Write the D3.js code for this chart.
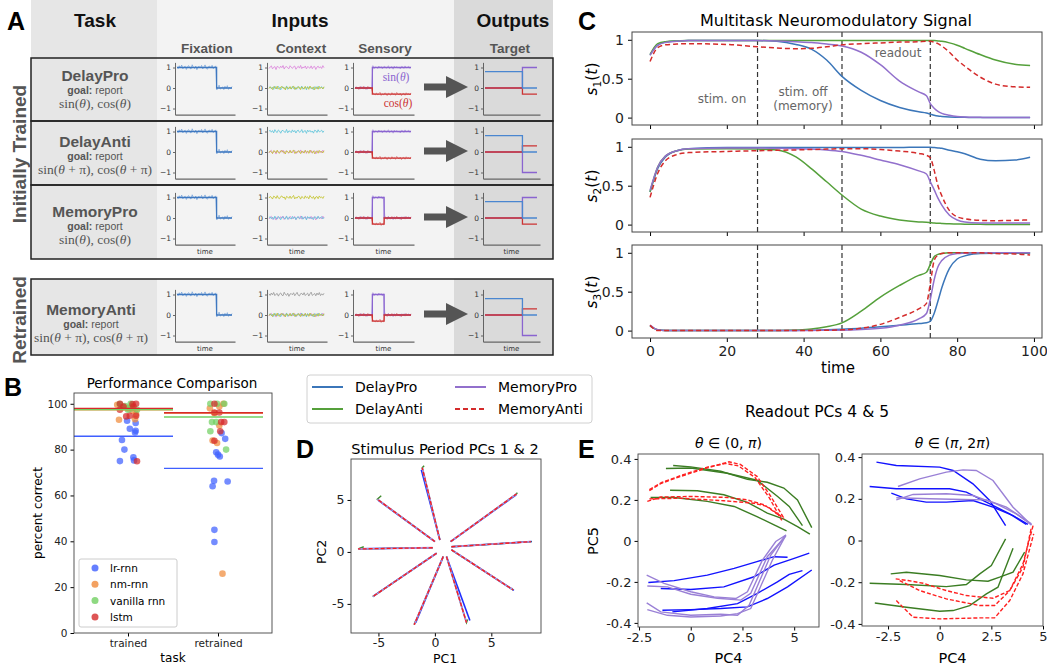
<!DOCTYPE html>
<html lang="en">
<head>
<meta charset="utf-8">
<title>Multitask figure</title>
<script src="https://d3js.org/d3.v7.min.js"></script>
<style>
body{margin:0;background:#fff;}
svg text{font-family:"DejaVu Sans",sans-serif;}
</style>
</head>
<body>
<script>
// ---------- data ----------
// panel A: task rows
var taskNames = ["DelayPro", "DelayAnti", "MemoryPro", "MemoryAnti"];
var taskAnti = [false, true, false, true];
var taskMemory = [false, false, true, true];
var ctxHigh = ["pink", "cyan", "yellow", "gray"];
// trial structure (fraction of trial)
var stimOn = 0.31, stimOff = 0.52, respOn = 0.72;
// hand read noise of the input traces
var nz1 = [0.06,-0.09,0.14,-0.04,0.2,-0.11,0.03,0.1,-0.16,0.07,0.15,-0.06,-0.12,0.22,0.01,-0.08,0.12,-0.18,0.05,0.09,-0.03,0.17,-0.12,0.04,0.21,-0.07,-0.14,0.08,0.11,-0.05,0.18,-0.1,0.03,0.13,-0.15,0.06,0.23,-0.09,0.0,0.1,-0.13,0.14,-0.04,0.19,-0.11,0.07,-0.06,0.12];
var nz2 = [-0.1,0.05,0.16,-0.13,0.02,0.09,-0.2,0.11,0.04,-0.07,0.13,-0.02,0.19,-0.15,0.06,0.1,-0.05,-0.12,0.17,0.03,-0.09,0.08,0.14,-0.17,0.01,0.12,-0.06,0.2,-0.11,0.05,-0.03,0.15,-0.14,0.09,0.02,-0.08,0.16,-0.12,0.07,0.11,-0.19,0.04,0.13,-0.06,0.08,-0.1,0.18,-0.02];
var nz3 = [0.03,0.12,-0.07,0.09,-0.14,0.18,-0.02,-0.1,0.15,0.05,-0.17,0.08,0.11,-0.04,-0.09,0.2,-0.13,0.06,0.02,-0.11,0.16,-0.05,0.1,-0.15,0.07,0.13,-0.08,-0.02,0.19,-0.12,0.04,0.09,-0.18,0.14,-0.03,0.11,-0.07,0.05,-0.16,0.12,0.08,-0.1,0.17,-0.04,0.02,0.13,-0.09,0.06];
var nz4 = [-0.05,0.1,0.02,-0.15,0.13,0.07,-0.09,0.18,-0.06,-0.12,0.09,0.15,-0.03,0.05,-0.19,0.11,0.04,-0.08,0.14,-0.1,0.06,0.2,-0.14,0.03,-0.07,0.12,0.08,-0.16,0.1,0.01,-0.11,0.16,-0.04,0.07,-0.13,0.19,0.02,-0.08,0.11,-0.17,0.05,0.09,-0.12,0.15,-0.02,0.06,-0.09,0.13];

// panel B: percent correct per model
var modelNames = ["lr-rnn", "nm-rnn", "vanilla rnn", "lstm"];
var lrTrained = [92.6,89.1,91.6,88.2,87.5,84.2,80,75,76.6,75.3];
var lrTrainedJit = [-0.01,0.02,0.085,0.085,0.078,-0.067,-0.04,-0.09,0.06,0.067];
var nmTrained = [93,93.3,98,99.6,97,95.5,98.5,99];
var nmTrainedJit = [-0.1,0.078,0,-0.12,0.05,0.09,-0.05,0.04];
var vanTrained = [99.9,99,98,97.4,97.4,100,98.5];
var vanTrainedJit = [-0.09,-0.033,0.04,0.1,0,0.03,-0.07];
var lstmTrained = [100,98.8,97.4,99.9,100,98.8,94.5,94.8,94.8,74.9];
var lstmTrainedJit = [-0.09,-0.05,-0.09,0.05,0.09,0.06,-0.02,0.02,0.09,0.1];
var lrRetrained = [66.4,64,66.1,45,39.7,78.8,77.8,77,84.7,87.2];
var lrRetrainedJit = [-0.044,-0.06,0.107,-0.04,-0.04,-0.02,0,0.02,0.08,0.04];
var nmRetrained = [98,95.9,90.5,82.9,84,25.9,98.8,100];
var nmRetrainedJit = [-0.09,-0.04,0.015,-0.01,-0.06,0.05,0.015,0.06];
var vanRetrained = [100,100,100,92,92,88,80];
var vanRetrainedJit = [-0.085,-0.01,0.07,-0.067,-0.02,-0.085,0.09];
var lstmRetrained = [100,96.2,96.2,92,92,88,83.9];
var lstmRetrainedJit = [-0.04,-0.04,0.015,0.07,0.035,0.025,-0.04];
var meanTrained = [85.8, 97.4, 97.5, 98];
var meanRetrained = [71.8, 96, 94.2, 96.1];

// panel C: neuromodulatory signals
var tGrid = [0,2,4,7,10,20,28,33,38,42,46,50,55,60,65,70,72,73,74,75,76,78,80,82,86,90,95,99];
var s1Blue = [.81,.93,.97,.985,.99,.99,.99,.98,.94,.88,.74,.53,.35,.22,.13,.075,.06,.045,.03,.02,.015,.008,.005,.003,0,0,0,0];
var s1Green = [.81,.95,.975,.985,.99,.99,.99,.99,.99,.99,.99,.99,.99,.99,.99,.99,.99,.99,.99,.985,.98,.96,.93,.89,.81,.74,.685,.67];
var s1Purple = [.80,.93,.965,.98,.99,.99,.99,.985,.975,.965,.945,.92,.84,.68,.47,.33,.28,.18,.12,.08,.055,.03,.015,.008,.003,0,0,0];
var s1Red = [.72,.9,.935,.945,.95,.94,.91,.895,.885,.89,.91,.935,.95,.96,.97,.975,.98,.98,.97,.95,.92,.84,.74,.66,.52,.43,.395,.39];
var s2Blue = [.42,.72,.87,.95,.975,.99,.99,.99,.99,.99,.99,.99,.99,.99,.99,.995,.995,.995,.99,.985,.98,.955,.935,.91,.84,.82,.83,.865];
var s2Green = [.42,.74,.88,.95,.97,.975,.97,.96,.87,.72,.55,.38,.2,.11,.06,.035,.03,.025,.02,.018,.015,.01,.008,.005,.003,0,0,0];
var s2Purple = [.44,.74,.88,.95,.975,.985,.985,.98,.975,.97,.96,.94,.89,.83,.77,.69,.65,.55,.45,.34,.25,.12,.06,.035,.022,.02,.02,.02];
var s2Red = [.35,.66,.82,.9,.925,.94,.95,.955,.96,.965,.97,.975,.975,.965,.945,.915,.89,.86,.7,.5,.37,.18,.1,.075,.055,.05,.055,.06];
var s3Blue = [.06,.01,.002,0,0,0,0,0,.002,.005,.01,.018,.03,.05,.07,.09,.1,.12,.22,.38,.55,.8,.92,.96,.99,.995,.995,.995];
var s3Green = [.06,.01,.002,0,0,0,0,.002,.008,.02,.05,.1,.25,.43,.58,.71,.75,.85,.95,.98,.99,1,1,1,1,1,1,1];
var s3Purple = [.07,.01,0,0,0,0,0,0,0,.002,.004,.006,.015,.03,.07,.15,.22,.4,.65,.82,.9,.97,.99,.995,1,1,1,1];
var s3Red = [.07,0,0,0,0,0,0,0,0,.002,.004,.01,.03,.08,.17,.28,.35,.6,.9,.97,.99,1,1,1,1,.99,.985,.97];
var eventTimes = [28, 50, 73];

// panel D: stimulus period rays (inner and outer ends)
var rayInnerX = [0.44, 0.0, -0.2, 0.15, 0.74, 1.03, 1.47, 1.47, 1.4];
var rayInnerY = [1.15, 1.0, 0.4, -0.13, -0.45, -0.45, 0.2, 0.5, 1.0];
var rayOuterX = [-1.12, -5.1, -6.8, -5.5, -1.83, 2.8, 6.93, 8.5, 7.23];
var rayOuterY = [8.1, 5.07, 0.29, -4.3, -7.0, -6.8, -3.65, 0.99, 5.58];
var rayBlueEndX = [-1.2, -5.0, -6.7, -5.45, -1.7, 3.1, 7.0, 8.6, 7.2];
var rayBlueEndY = [7.9, 4.95, 0.3, -4.25, -6.8, -6.6, -3.7, 1.0, 5.5];
var rayGreenEndX = [-0.95, -4.75, -6.3, -5.4, -1.75, 2.9, 6.8, 8.5, 7.3];
var rayGreenEndY = [8.3, 5.4, 0.5, -4.2, -6.7, -6.5, -3.5, 1.05, 5.7];

// panel E: readout trajectories [PC4, PC5]
var e1Green = [
  [[-0.85,0.368],[0,0.361],[1.45,0.34],[2.74,0.30],[3.7,0.286],[4.5,0.258],[5.16,0.2],[5.85,0.065]],
  [[-1.2,0.353],[0,0.356],[1.77,0.33],[3.2,0.296],[4.2,0.217],[4.76,0.168],[5.4,0.075]],
  [[-1,0.247],[0.32,0.245],[1.6,0.225],[2.74,0.188],[3.7,0.136],[4.5,0.106],[5.16,0.07],[5.76,0.033]],
  [[-1.94,0.212],[-0.8,0.212],[0.8,0.193],[2.1,0.168],[3.2,0.119],[4.03,0.078],[4.63,0.049]]
];
var e1Red = [
  [[-2,0.245],[-1.45,0.28],[-0.48,0.315],[0.8,0.356],[1.85,0.386],[2.4,0.373],[3.2,0.315],[3.87,0.217],[4.5,0.111]],
  [[-2,0.25],[-1.4,0.285],[-0.4,0.322],[0.8,0.36],[1.7,0.378],[2.3,0.366],[3.1,0.31],[3.8,0.21],[4.4,0.1]],
  [[-2.1,0.193],[-1.45,0.214],[0,0.217],[1.77,0.212],[2.74,0.2],[3.55,0.176],[4.35,0.119]],
  [[-2,0.205],[-0.48,0.208],[1.6,0.196],[3.06,0.184],[3.7,0.168],[4.5,0.11]]
];
var e1Blue = [
  [[-2.05,-0.203],[-0.8,-0.194],[0.8,-0.167],[2.1,-0.134],[3.2,-0.101],[4.03,-0.077],[4.68,-0.08]],
  [[-1.45,-0.232],[0,-0.237],[1.6,-0.224],[3.06,-0.175],[4.03,-0.118],[5,-0.085],[5.73,-0.06]],
  [[-0.89,-0.346],[0.8,-0.33],[2.26,-0.306],[3.2,-0.257],[4.19,-0.2],[4.76,-0.163],[5.4,-0.145]],
  [[-1.37,-0.338],[0,-0.335],[1.45,-0.33],[2.74,-0.322],[3.7,-0.281],[4.68,-0.224],[5.85,-0.142]]
];
var e1Purple = [
  [[-2.13,-0.167],[-1.29,-0.207],[0,-0.248],[1.13,-0.273],[2.18,-0.281],[2.74,-0.248],[3.47,-0.093],[4.11,-0.003],[4.6,0.029]],
  [[-2.1,-0.22],[-1.13,-0.224],[0,-0.26],[1.29,-0.28],[2.42,-0.289],[2.9,-0.256],[3.7,-0.077],[4.6,0.025]],
  [[-2.13,-0.302],[-1.45,-0.346],[0,-0.363],[1.45,-0.358],[2.26,-0.363],[2.82,-0.314],[3.87,-0.069],[4.6,0.029]],
  [[-2.1,-0.335],[-1.13,-0.363],[0,-0.371],[1.45,-0.366],[2.26,-0.355],[2.9,-0.33],[3.95,-0.093],[4.56,0.021]]
];
var e2Blue = [
  [[-3.06,0.376],[-2.1,0.36],[0,0.352],[0.65,0.336],[1.61,0.272],[2.42,0.192],[3.19,0.072]],
  [[-3.39,0.259],[-2.1,0.248],[-0.48,0.248],[0.48,0.248],[1.29,0.232],[2.26,0.184],[3.39,0.128],[4.19,0.077]],
  [[-2.34,0.227],[-1.61,0.2],[-0.65,0.184],[0.32,0.184],[1.61,0.192],[2.58,0.16],[3.55,0.12],[4.27,0.077]]
];
var e2Purple = [
  [[-2.02,0.259],[-0.97,0.296],[0.32,0.328],[1.13,0.339],[1.77,0.336],[2.58,0.288],[3.55,0.16],[4.44,0.075]],
  [[-2.1,0.195],[-1.29,0.221],[0.32,0.224],[1.61,0.216],[2.74,0.176],[3.71,0.128],[4.44,0.075]],
  [[-2.1,0.205],[-0.48,0.2],[1.13,0.197],[2.26,0.195],[3.23,0.16],[4.44,0.08]]
];
var e2Green = [
  [[-2.37,-0.16],[-1.61,-0.152],[0,-0.168],[1.29,-0.189],[2.34,-0.195],[2.9,-0.176],[3.55,-0.152],[4.11,-0.056]],
  [[-3.39,-0.205],[-1.61,-0.211],[0.32,-0.221],[1.29,-0.211],[1.94,-0.16],[2.5,-0.12],[3.19,0.008]],
  [[-3.14,-0.3],[-1.61,-0.32],[0,-0.339],[0.65,-0.336],[1.45,-0.312],[2.26,-0.256],[2.82,-0.224],[3.55,-0.037]]
];
var e2Red = [
  [[-2.13,-0.184],[-1.53,-0.192],[-0.8,-0.205],[0.32,-0.24],[1.29,-0.264],[2.58,-0.277],[3.39,-0.24],[4.03,-0.128],[4.44,0.064]],
  [[-2.1,-0.288],[-1.29,-0.368],[0,-0.376],[1.94,-0.371],[2.66,-0.371],[3.39,-0.288],[4.03,-0.16],[4.55,0.032]],
  [[-1.94,-0.192],[-0.97,-0.24],[0.32,-0.28],[1.94,-0.312],[2.66,-0.312],[3.39,-0.24],[4.03,-0.112],[4.52,0.072]]
];

// ---------- colours ----------
var cBlue = "#3b76b9", cGreen = "#55a03b", cPurple = "#9270cc", cRed = "#d42b2b";
var ctxColors = {pink: "#dc86dc", cyan: "#62c6da", yellow: "#c4c430", gray: "#9a9a9a"};
var modelColors = ["#3f5fff", "#f08a3a", "#72d062", "#d62a2a"];

var svg = d3.select("body").append("svg").attr("width", 1047).attr("height", 665);

// ======================= PANEL A =======================
var gA = svg.append("g");
var rowTop = [58, 121, 185, 279];
var rowBot = [121, 185, 259, 355];
var rowZero = [88, 152, 218, 315];
var nameBase = [81, 147, 217, 315];

[[0, 259], [279, 355]].forEach(function(b) {
  gA.append("rect").attr("x", 31).attr("y", b[0]).attr("width", 126).attr("height", b[1] - b[0]).attr("fill", "#e6e6e6");
  gA.append("rect").attr("x", 157).attr("y", b[0]).attr("width", 297).attr("height", b[1] - b[0]).attr("fill", "#f3f3f3");
  gA.append("rect").attr("x", 454).attr("y", b[0]).attr("width", 99).attr("height", b[1] - b[0]).attr("fill", "#dadada");
});
for (var r = 0; r < 4; r++) {
  gA.append("rect").attr("x", 31).attr("y", rowTop[r]).attr("width", 522).attr("height", rowBot[r] - rowTop[r])
    .attr("fill", "none").attr("stroke", "#222").attr("stroke-width", 1.5);
}

function bold(t, x, y, size, fill, anchor) {
  return gA.append("text").attr("x", x).attr("y", y).attr("font-size", size).attr("font-weight", "bold")
    .attr("fill", fill).attr("text-anchor", anchor || "middle").style("font-family", "Liberation Sans, Arial, sans-serif").text(t);
}
bold("A", 7, 30, 25, "#000", "start");
bold("Task", 95, 27, 19, "#111");
bold("Inputs", 300, 27, 19, "#111");
bold("Outputs", 513, 27, 19, "#111");
bold("Fixation", 207, 53, 13.5, "#555");
bold("Context", 301, 53, 13.5, "#555");
bold("Sensory", 385, 53, 13.5, "#555");
bold("Target", 510, 53, 13.5, "#555");
bold("Initially Trained", 0, 0, 19, "#555").attr("transform", "translate(26,154) rotate(-90)");
bold("Retrained", 0, 0, 19, "#555").attr("transform", "translate(26,320) rotate(-90)");

function formula(x, y, anti) {
  var t = gA.append("text").attr("x", x).attr("y", y).attr("text-anchor", "middle").attr("font-size", 13.5)
    .attr("fill", "#555").style("font-family", "Liberation Serif, serif");
  var tail = anti ? " + π)" : ")";
  t.append("tspan").text("sin(");
  t.append("tspan").attr("font-style", "italic").text("θ");
  t.append("tspan").text(tail + ", cos(");
  t.append("tspan").attr("font-style", "italic").text("θ");
  t.append("tspan").text(tail);
}

// mini chart with y ticks -1, 0, 1
function mini(x0, y0, w, showTime) {
  var y = d3.scaleLinear().domain([-1.3, 1.25]).range([y0 + 1.3 * 20.5, y0 - 1.25 * 20.5]);
  var x = d3.scaleLinear().domain([0, 1]).range([x0 + 2, x0 + w - 3]);
  var ax = gA.append("g").attr("transform", "translate(" + x0 + ",0)")
    .call(d3.axisLeft(y).tickValues([-1, 0, 1]).tickFormat(d3.format("d")).tickSize(2).tickSizeOuter(0).tickPadding(2));
  ax.selectAll("text").attr("font-size", 7.5).attr("fill", "#333");
  ax.selectAll("line,path").attr("stroke", "#444").attr("stroke-width", 0.8);
  gA.append("g").attr("transform", "translate(0," + y(-1.3) + ")")
    .call(d3.axisBottom(d3.scaleLinear().range([x0, x0 + w])).tickValues([]).tickSizeOuter(0))
    .selectAll("path").attr("stroke", "#666").attr("stroke-width", 1.2);
  if (showTime) {
    gA.append("text").attr("x", x0 + w / 2).attr("y", y(-1.3) + 9).attr("text-anchor", "middle")
      .attr("font-size", 7).attr("fill", "#333").text("time");
  }
  return {x: x, y: y};
}
function trace(m, vals, col, width, op) {
  var line = d3.line().x(function(d, i) { return m.x(i / (vals.length - 1)); }).y(function(d) { return m.y(d); });
  gA.append("path").attr("d", line(vals)).attr("fill", "none").attr("stroke", col)
    .attr("stroke-width", width).attr("opacity", op);
}
function stepPath(m, pts, col) {
  var line = d3.line().x(function(d) { return m.x(d[0]); }).y(function(d) { return m.y(d[1]); }).curve(d3.curveStepAfter);
  gA.append("path").attr("d", line(pts)).attr("fill", "none").attr("stroke", col).attr("stroke-width", 1.3);
}
function level(f, on, off, hi, lo) {
  return (f >= on && f < off) ? hi : lo;
}

for (var r = 0; r < 4; r++) {
  var yz = rowZero[r];
  var anti = taskAnti[r], mem = taskMemory[r];
  var showTime = r >= 2;
  var cx = r === 3 ? 91 : 95;
  bold(taskNames[r], cx, nameBase[r], 15.5, "#555");
  var g2 = gA.append("text").attr("x", cx).attr("y", nameBase[r] + 13).attr("text-anchor", "middle")
    .attr("font-size", 10.5).attr("fill", "#555").style("font-family", "Liberation Sans, Arial, sans-serif");
  g2.append("tspan").attr("font-weight", "bold").text("goal:");
  g2.append("tspan").text(" report");
  formula(cx, nameBase[r] + 27, anti);

  // fixation
  var mF = mini(175, yz, 60, showTime);
  var fixVals = nz1.map(function(n, i) { var f = i / (nz1.length - 1); return level(f, 0, respOn, 1, 0) + n * 0.6; });
  trace(mF, fixVals, "#7aa6dc", 1, 0.8);
  stepPath(mF, [[0, 1], [respOn, 0], [1, 0]], "#3f78c0");

  // context
  var mC = mini(267, yz, 60, showTime);
  var keys = ["pink", "cyan", "yellow", "gray"];
  var nzs = [nz2, nz3, nz4, nz1];
  keys.forEach(function(k, j) {
    if (k === "gray" && r < 3) return;
    var hi = (k === ctxHigh[r]) ? 1 : 0;
    var vals = nzs[j].map(function(n) { return hi + n * 0.5; });
    trace(mC, vals, ctxColors[k], 1, 0.85);
  });

  // sensory
  var mS = mini(353, yz, 61, showTime);
  var off = mem ? stimOff : 1.01;
  var sinVals = nz3.map(function(n, i) { var f = i / (nz3.length - 1); return level(f, stimOn, off, 1, 0) + n * 0.45; });
  var cosVals = nz4.map(function(n, i) { var f = i / (nz4.length - 1); return level(f, stimOn, off, -0.3, 0) + n * 0.45; });
  trace(mS, sinVals, "#b09ae0", 1, 0.8);
  trace(mS, cosVals, "#e07a7a", 1, 0.8);
  stepPath(mS, mem ? [[0, 0], [stimOn, 1], [stimOff, 0], [1, 0]] : [[0, 0], [stimOn, 1], [1, 1]], "#8a64d0");
  stepPath(mS, mem ? [[0, 0], [stimOn, -0.3], [stimOff, 0], [1, 0]] : [[0, 0], [stimOn, -0.3], [1, -0.3]], "#cc3333");
  if (r === 0) {
    var st = gA.append("text").attr("x", 396).attr("y", 81).attr("text-anchor", "middle").attr("font-size", 11.5)
      .attr("fill", "#8a64d0").style("font-family", "Liberation Serif, serif");
    st.append("tspan").text("sin(");
    st.append("tspan").attr("font-style", "italic").text("θ");
    st.append("tspan").text(")");
    var ct = gA.append("text").attr("x", 398).attr("y", 107).attr("text-anchor", "middle").attr("font-size", 11.5)
      .attr("fill", "#cc3333").style("font-family", "Liberation Serif, serif");
    ct.append("tspan").text("cos(");
    ct.append("tspan").attr("font-style", "italic").text("θ");
    ct.append("tspan").text(")");
  }

  // arrow
  var ay = yz - 1;
  gA.append("path").attr("d", "M424," + (ay - 3.5) + "H446V" + (ay - 11) + "L468," + ay + "L446," + (ay + 11) + "V" + (ay + 3.5) + "H424Z")
    .attr("fill", "#555");

  // target
  var mT = mini(483, yz, 57, showTime);
  var sgn = anti ? -1 : 1;
  stepPath(mT, [[0, 0], [respOn, sgn], [1, sgn]], "#8a64d0");
  stepPath(mT, [[0, 0], [respOn, -0.3 * sgn], [1, -0.3 * sgn]], "#cc3333");
  stepPath(mT, [[0, 0.8], [respOn, 0], [1, 0]], "#4a86d0");
}

// ======================= PANEL B =======================
var gB = svg.append("g");
var xB = d3.scaleLinear().domain([-0.6, 1.6]).range([74, 272]);
var yB = d3.scaleLinear().domain([0, 104.7]).range([633, 393]);
gB.append("text").attr("x", 4).attr("y", 396).attr("font-size", 25).attr("font-weight", "bold")
  .style("font-family", "Liberation Sans, Arial, sans-serif").text("B");
gB.append("text").attr("x", 172).attr("y", 388).attr("text-anchor", "middle").attr("font-size", 13.5).text("Performance Comparison");
var axB = gB.append("g").attr("transform", "translate(74,0)")
  .call(d3.axisLeft(yB).tickValues([0, 20, 40, 60, 80, 100]).tickSize(3.5).tickPadding(3));
axB.select(".domain").remove();
axB.selectAll("text").attr("font-size", 10.5).attr("fill", "#222");
var axBx = gB.append("g").attr("transform", "translate(0,633)")
  .call(d3.axisBottom(xB).tickValues([0, 1]).tickFormat(function(d) { return d === 0 ? "trained" : "retrained"; }).tickSize(3.5).tickPadding(3));
axBx.select(".domain").remove();
axBx.selectAll("text").attr("font-size", 10.5).attr("fill", "#222");
gB.append("text").attr("transform", "translate(42,513) rotate(-90)").attr("text-anchor", "middle").attr("font-size", 12).text("percent correct");
gB.append("text").attr("x", 173).attr("y", 662).attr("text-anchor", "middle").attr("font-size", 12).text("task");

var trainedSets = [[lrTrained, lrTrainedJit], [nmTrained, nmTrainedJit], [vanTrained, vanTrainedJit], [lstmTrained, lstmTrainedJit]];
var retrainedSets = [[lrRetrained, lrRetrainedJit], [nmRetrained, nmRetrainedJit], [vanRetrained, vanRetrainedJit], [lstmRetrained, lstmRetrainedJit]];
[trainedSets, retrainedSets].forEach(function(sets, cat) {
  sets.forEach(function(s, m) {
    gB.selectAll(null).data(s[0]).enter().append("circle")
      .attr("cx", function(d, i) { return xB(cat + s[1][i]); })
      .attr("cy", function(d) { return yB(d); })
      .attr("r", 3.3).attr("fill", modelColors[m]).attr("opacity", 0.72);
  });
});
[meanTrained, meanRetrained].forEach(function(means, cat) {
  means.forEach(function(v, m) {
    gB.append("line").attr("x1", xB(cat - 0.6)).attr("x2", xB(cat + 0.5)).attr("y1", yB(v)).attr("y2", yB(v))
      .attr("stroke", modelColors[m]).attr("stroke-width", 1.4);
  });
});
gB.append("rect").attr("x", 74).attr("y", 393).attr("width", 198).attr("height", 240).attr("fill", "none").attr("stroke", "#444").attr("stroke-width", 0.9);
gB.append("rect").attr("x", 79).attr("y", 559).attr("width", 98).attr("height", 68).attr("rx", 2)
  .attr("fill", "#fff").attr("fill-opacity", 0.8).attr("stroke", "#ccc");
modelNames.forEach(function(n, i) {
  gB.append("circle").attr("cx", 95).attr("cy", 568 + i * 16.3).attr("r", 3.5).attr("fill", modelColors[i]).attr("opacity", 0.8);
  gB.append("text").attr("x", 110).attr("y", 572 + i * 16.3).attr("font-size", 10.5).text(n);
});

// ======================= LEGEND =======================
var gL = svg.append("g");
gL.append("rect").attr("x", 307).attr("y", 375).attr("width", 285).attr("height", 48).attr("rx", 3)
  .attr("fill", "#fff").attr("stroke", "#d0d0d0");
var legNames = ["DelayPro", "DelayAnti", "MemoryPro", "MemoryAnti"];
var legColors = [cBlue, cGreen, cPurple, cRed];
legNames.forEach(function(n, i) {
  var lx = i < 2 ? 312 : 455, ly = i % 2 === 0 ? 387 : 409;
  gL.append("line").attr("x1", lx).attr("x2", lx + 31).attr("y1", ly).attr("y2", ly).attr("stroke", legColors[i])
    .attr("stroke-width", 2).attr("stroke-dasharray", i === 3 ? "5,3" : null);
  gL.append("text").attr("x", lx + 43).attr("y", ly + 5).attr("font-size", 14).text(n);
});

// ======================= PANEL C =======================
var gC = svg.append("g");
gC.append("text").attr("x", 578).attr("y", 30).attr("font-size", 25).attr("font-weight", "bold")
  .style("font-family", "Liberation Sans, Arial, sans-serif").text("C");
gC.append("text").attr("x", 836).attr("y", 26).attr("text-anchor", "middle").attr("font-size", 16).text("Multitask Neuromodulatory Signal");
var xC = d3.scaleLinear().domain([-4.7, 102.1]).range([632, 1042]);
var plotTops = [32, 139, 245];
var sets = [[s1Blue, s1Green, s1Purple, s1Red], [s2Blue, s2Green, s2Purple, s2Red], [s3Blue, s3Green, s3Purple, s3Red]];
sets.forEach(function(ser, p) {
  var top = plotTops[p];
  var yC = d3.scaleLinear().domain([-0.095, 1.1]).range([top + 93, top]);
  var g = gC.append("g");
  var ay = g.append("g").attr("transform", "translate(632,0)")
    .call(d3.axisLeft(yC).tickValues([0, 0.5, 1]).tickFormat(d3.format("")).tickSize(4).tickPadding(4));
  ay.select(".domain").remove();
  ay.selectAll("text").attr("font-size", 14).attr("fill", "#222");
  var axx = g.append("g").attr("transform", "translate(0," + (top + 93) + ")")
    .call(d3.axisBottom(xC).tickValues([0, 20, 40, 60, 80, 100]).tickSize(4).tickPadding(4));
  axx.select(".domain").remove();
  axx.selectAll("text").attr("font-size", 14).attr("fill", "#222");
  if (p < 2) axx.selectAll("text").remove();
  eventTimes.forEach(function(t) {
    g.append("line").attr("x1", xC(t)).attr("x2", xC(t)).attr("y1", top).attr("y2", top + 93)
      .attr("stroke", "#333").attr("stroke-width", 1.2).attr("stroke-dasharray", "5,3");
  });
  var line = d3.line().x(function(d, i) { return xC(tGrid[i]); }).y(function(d) { return yC(d); }).curve(d3.curveMonotoneX);
  [cBlue, cGreen, cPurple, cRed].forEach(function(col, k) {
    g.append("path").attr("d", line(ser[k])).attr("fill", "none").attr("stroke", col).attr("stroke-width", 1.5)
      .attr("stroke-dasharray", k === 3 ? "5,3" : null);
  });
  g.append("rect").attr("x", 632).attr("y", top).attr("width", 410).attr("height", 93).attr("fill", "none").attr("stroke", "#444").attr("stroke-width", 1);
  var lab = g.append("text").attr("transform", "translate(597," + (top + 47) + ") rotate(-90)").attr("text-anchor", "middle").attr("font-size", 15.5);
  lab.append("tspan").attr("font-style", "italic").text("s");
  lab.append("tspan").attr("font-size", 10.5).attr("dy", 4).text(p + 1);
  lab.append("tspan").attr("dy", -4).text("(");
  lab.append("tspan").attr("font-style", "italic").text("t");
  lab.append("tspan").text(")");
});
gC.append("text").attr("x", 722).attr("y", 103).attr("text-anchor", "middle").attr("font-size", 12).attr("fill", "#666").text("stim. on");
gC.append("text").attr("x", 803).attr("y", 96).attr("text-anchor", "middle").attr("font-size", 12).attr("fill", "#666").text("stim. off");
gC.append("text").attr("x", 803).attr("y", 110).attr("text-anchor", "middle").attr("font-size", 12).attr("fill", "#666").text("(memory)");
gC.append("text").attr("x", 898).attr("y", 57).attr("text-anchor", "middle").attr("font-size", 12).attr("fill", "#666").text("readout");
gC.append("text").attr("x", 838).attr("y", 373).attr("text-anchor", "middle").attr("font-size", 15).text("time");

// ======================= PANEL D =======================
var gD = svg.append("g");
var xD = d3.scaleLinear().domain([-7.43, 9.4]).range([351, 541]);
var yD = d3.scaleLinear().domain([-7.8, 8.94]).range([633, 459]);
gD.append("text").attr("x", 296).attr("y", 458).attr("font-size", 25).attr("font-weight", "bold")
  .style("font-family", "Liberation Sans, Arial, sans-serif").text("D");
gD.append("text").attr("x", 445).attr("y", 454).attr("text-anchor", "middle").attr("font-size", 14.5).text("Stimulus Period PCs 1 & 2");
var axD = gD.append("g").attr("transform", "translate(351,0)")
  .call(d3.axisLeft(yD).tickValues([-5, 0, 5]).tickFormat(function(d) { return String(d); }).tickSize(3.5).tickPadding(3));
axD.select(".domain").remove();
axD.selectAll("text").attr("font-size", 12.5).attr("fill", "#222");
var axDx = gD.append("g").attr("transform", "translate(0,633)")
  .call(d3.axisBottom(xD).tickValues([-5, 0, 5]).tickFormat(function(d) { return String(d); }).tickSize(3.5).tickPadding(1.5));
axDx.select(".domain").remove();
axDx.selectAll("text").attr("font-size", 12.5).attr("fill", "#222");
gD.append("text").attr("x", 445).attr("y", 663).attr("text-anchor", "middle").attr("font-size", 12.5).text("PC1");
gD.append("text").attr("transform", "translate(326,552) rotate(-90)").attr("text-anchor", "middle").attr("font-size", 12.5).text("PC2");
var lineD = d3.line().x(function(d) { return xD(d[0]); }).y(function(d) { return yD(d[1]); });
rayInnerX.forEach(function(ix, i) {
  var inner = [ix, rayInnerY[i]];
  gD.append("path").attr("d", lineD([inner, [rayBlueEndX[i], rayBlueEndY[i]]])).attr("fill", "none").attr("stroke", "#2030ff").attr("stroke-width", 1.6);
  gD.append("path").attr("d", lineD([inner, [rayOuterX[i], rayOuterY[i]], [rayGreenEndX[i], rayGreenEndY[i]]])).attr("fill", "none").attr("stroke", "#3d8a2a").attr("stroke-width", 1.4);
  gD.append("path").attr("d", lineD([inner, [rayOuterX[i], rayOuterY[i]]])).attr("fill", "none").attr("stroke", "#a890e0").attr("stroke-width", 1.8);
  gD.append("path").attr("d", lineD([inner, [rayOuterX[i], rayOuterY[i]]])).attr("fill", "none").attr("stroke", "#ff1a1a").attr("stroke-width", 1.3).attr("stroke-dasharray", "4,2");
});
gD.append("rect").attr("x", 351).attr("y", 459).attr("width", 190).attr("height", 174).attr("fill", "none").attr("stroke", "#444").attr("stroke-width", 0.9);

// ======================= PANEL E =======================
var gE = svg.append("g");
gE.append("text").attr("x", 578).attr("y", 458).attr("font-size", 25).attr("font-weight", "bold")
  .style("font-family", "Liberation Sans, Arial, sans-serif").text("E");
gE.append("text").attr("x", 817).attr("y", 417).attr("text-anchor", "middle").attr("font-size", 15.5).text("Readout PCs 4 & 5");
var eSubs = [
  {x: d3.scaleLinear().domain([-2.55, 6.2]).range([638, 819]), y: d3.scaleLinear().domain([-0.42, 0.424]).range([627, 454]),
   data: [e1Green, e1Red, e1Blue, e1Purple], lo: "0", hi: "π", xt: [-2.5, 0, 2.5, 5]},
  {x: d3.scaleLinear().domain([-3.76, 5]).range([862, 1043]), y: d3.scaleLinear().domain([-0.41, 0.415]).range([626, 454]),
   data: [e2Blue, e2Purple, e2Green, e2Red], lo: "π", hi: "2π", xt: [-2.5, 0, 2.5, 5]}
];
var eCols = [["#3b7d23", "#ff2020", "#1212ff", "#9a80d6"], ["#1212ff", "#9a80d6", "#3b7d23", "#ff2020"]];
eSubs.forEach(function(s, k) {
  var g = gE.append("g");
  var x0 = s.x.range()[0], x1 = s.x.range()[1], y0 = s.y.range()[1], y1 = s.y.range()[0];
  var ax = g.append("g").attr("transform", "translate(" + x0 + ",0)")
    .call(d3.axisLeft(s.y).tickValues([-0.4, -0.2, 0, 0.2, 0.4]).tickFormat(function(d) { return String(d); }).tickSize(3.5).tickPadding(3));
  ax.select(".domain").remove();
  ax.selectAll("text").attr("font-size", 13).attr("fill", "#222");
  var axx = g.append("g").attr("transform", "translate(0," + y1 + ")")
    .call(d3.axisBottom(s.x).tickValues(s.xt).tickFormat(function(d) { return String(d); }).tickSize(3.5).tickPadding(2));
  axx.select(".domain").remove();
  axx.selectAll("text").attr("font-size", 13).attr("fill", "#222");
  var line = d3.line().x(function(d) { return s.x(d[0]); }).y(function(d) { return s.y(d[1]); });
  s.data.forEach(function(group, j) {
    var col = eCols[k][j];
    group.forEach(function(c) {
      g.append("path").attr("d", line(c)).attr("fill", "none").attr("stroke", col).attr("stroke-width", 1.4)
        .attr("stroke-dasharray", col === "#ff2020" ? "4,2" : null);
    });
  });
  g.append("rect").attr("x", x0).attr("y", y0).attr("width", x1 - x0).attr("height", y1 - y0).attr("fill", "none").attr("stroke", "#444").attr("stroke-width", 0.9);
  var cxT = (x0 + x1) / 2;
  var tt = g.append("text").attr("x", cxT).attr("y", 448).attr("text-anchor", "middle").attr("font-size", 14);
  tt.append("tspan").attr("font-style", "italic").text("θ");
  tt.append("tspan").text(" ∈ (" + (s.lo === "π" ? "" : s.lo));
  if (s.lo === "π") tt.append("tspan").attr("font-style", "italic").text("π");
  tt.append("tspan").text(", " + (s.hi === "2π" ? "2" : ""));
  tt.append("tspan").attr("font-style", "italic").text("π");
  tt.append("tspan").text(")");
  g.append("text").attr("x", cxT).attr("y", 663).attr("text-anchor", "middle").attr("font-size", 14.5).text("PC4");
});
gE.append("text").attr("transform", "translate(598,541) rotate(-90)").attr("text-anchor", "middle").attr("font-size", 14.5).text("PC5");
</script>
</body>
</html>
